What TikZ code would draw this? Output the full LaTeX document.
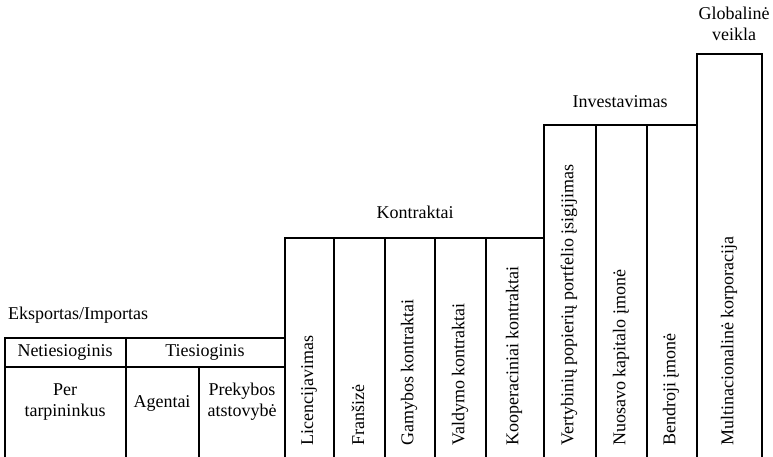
\documentclass[tikz,border=0pt]{standalone}
\usepackage{fontspec}
\setmainfont{Liberation Serif}
\begin{document}
\begin{tikzpicture}[x=1pt,y=-1pt,
  frame/.style={line width=1.6pt,line cap=rect},
  lbl/.style={font=\fontsize{18}{20}\selectfont,inner sep=0pt,align=center},
  vlbl/.style={lbl,rotate=90,anchor=west}]
\useasboundingbox (0,0) rectangle (773,456);
% Export/Import block
\draw[frame] (5,456) -- (5,338) -- (285,338);
\draw[frame] (5,367) -- (285,367);
\draw[frame] (126,338) -- (126,456);
\draw[frame] (199,367) -- (199,456);
% Contracts block
\draw[frame] (285,456) -- (285,238) -- (544,238);
\foreach \x in {334,385,435,486} \draw[frame] (\x,238) -- (\x,456);
% Investment block
\draw[frame] (544,456) -- (544,125) -- (697,125);
\foreach \x in {596,647} \draw[frame] (\x,125) -- (\x,456);
% Global block
\draw[frame] (697,456) -- (697,54) -- (762,54) -- (762,456);
% headings
\node[lbl,anchor=west] (ei) at (8,315) {Eksportas/Importas};
\node[lbl] (net) at (65,352) {Netiesioginis};
\node[lbl] (ties) at (205,352) {Tiesioginis};
\node[lbl] (per) at (65,402) {Per\\[1pt]tarpininkus};
\node[lbl] (ag) at (162,403) {Agentai};
\node[lbl] (prek) at (242,402) {Prekybos\\[1pt]atstovybė};
\node[lbl] (kon) at (415,212) {Kontraktai};
\node[lbl] (inv) at (620,102) {Investavimas};
\node[lbl] (glob) at (734,24) {Globalinė\\[1pt]veikla};
% vertical labels
\node[vlbl] (l1) at (309,446) {Licencijavimas};
\node[vlbl] (l2) at (358,446) {Franšizė};
\node[vlbl] (l3) at (409,446) {Gamybos kontraktai};
\node[vlbl] (l4) at (460,446) {Valdymo kontraktai};
\node[vlbl] (l5) at (514,446) {Kooperaciniai kontraktai};
\node[vlbl] (l6) at (569,446) {Vertybinių popierių portfelio įsigijimas};
\node[vlbl] (l7) at (621,446) {Nuosavo kapitalo įmonė};
\node[vlbl] (l8) at (671,446) {Bendroji įmonė};
\node[vlbl] (l9) at (729,446) {Multinacionalinė korporacija};
\end{tikzpicture}
\end{document}
